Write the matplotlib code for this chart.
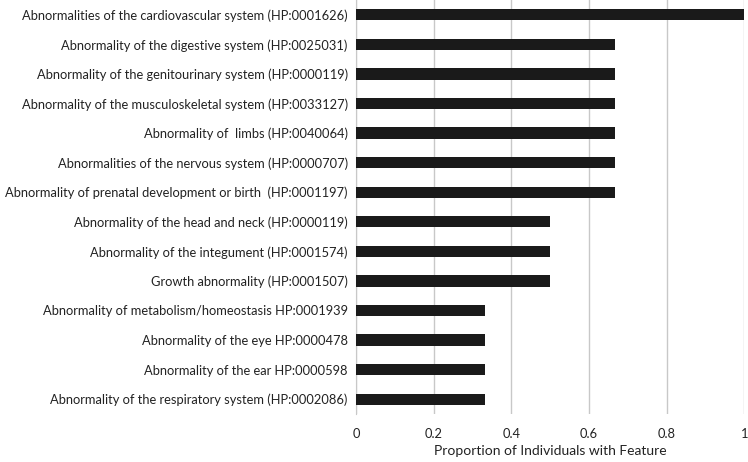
import matplotlib.pyplot as plt
import numpy as np

# categories top to bottom
features = [
    "Abnormalities of the cardiovascular system (HP:0001626)",
    "Abnormality of the digestive system (HP:0025031)",
    "Abnormality of the genitourinary system (HP:0000119)",
    "Abnormality of the musculoskeletal system (HP:0033127)",
    "Abnormality of  limbs (HP:0040064)",
    "Abnormalities of the nervous system (HP:0000707)",
    "Abnormality of prenatal development or birth  (HP:0001197)",
    "Abnormality of the head and neck (HP:0000119)",
    "Abnormality of the integument (HP:0001574)",
    "Growth abnormality (HP:0001507)",
    "Abnormality of metabolism/homeostasis HP:0001939",
    "Abnormality of the eye HP:0000478",
    "Abnormality of the ear HP:0000598",
    "Abnormality of the respiratory system (HP:0002086)",
]
proportions = [1.0, 0.667, 0.667, 0.667, 0.667, 0.667, 0.667,
               0.5, 0.5, 0.5, 0.333, 0.333, 0.333, 0.333]
xticks = [0, 0.2, 0.4, 0.6, 0.8, 1]
xtick_labels = ["0", "0.2", "0.4", "0.6", "0.8", "1"]

plt.rcParams['font.family'] = ['Lato', 'DejaVu Sans']

fig = plt.figure(figsize=(7.48, 4.62), dpi=100)
ax = fig.add_axes([0.476, 0.104, 0.519, 0.896])

y = np.arange(len(features))
ax.barh(y, proportions, height=0.38, color="#1a1a1a", zorder=3)
ax.set_ylim(len(features) - 0.5, -0.5)
ax.set_xlim(0, 1)

ax.set_yticks(y)
ax.set_yticklabels(features, fontsize=9.3, color="#222222")
ax.set_xticks(xticks)
ax.set_xticklabels(xtick_labels, fontsize=9.3, color="#222222")
ax.tick_params(axis="both", length=0)
ax.tick_params(axis="x", pad=10)
ax.tick_params(axis="y", pad=6)

ax.grid(axis="x", color="#c8c8c8", linewidth=1, zorder=0)
for side in ["top", "right", "bottom"]:
    ax.spines[side].set_visible(False)
ax.spines["left"].set_color("#c8c8c8")

ax.set_xlabel("Proportion of Individuals with Feature", fontsize=10, color="#222222", labelpad=4)

fig.savefig("out.png", dpi=100)
